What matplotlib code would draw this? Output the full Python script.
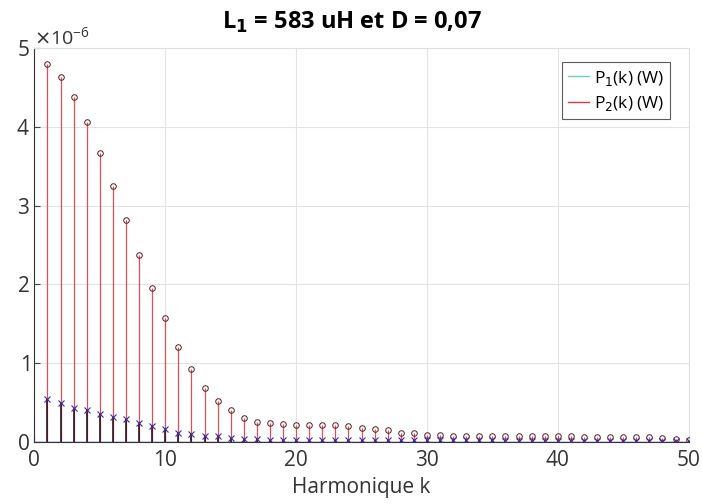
import numpy as np
import matplotlib.pyplot as plt
from matplotlib.lines import Line2D
from matplotlib.ticker import ScalarFormatter

# Harmonic ranks
k = np.arange(1, 51)

# P1(k) in units of 1e-6 W (x markers)
p1 = [0.55, 0.49, 0.43, 0.40, 0.36, 0.32, 0.29, 0.24, 0.20, 0.17,
      0.12, 0.10, 0.08, 0.07, 0.05, 0.04, 0.035, 0.03, 0.03, 0.03,
      0.03, 0.025, 0.025, 0.025, 0.02, 0.02, 0.02, 0.02, 0.02, 0.02,
      0.02, 0.02, 0.02, 0.02, 0.02, 0.015, 0.015, 0.015, 0.015, 0.015,
      0.015, 0.015, 0.015, 0.015, 0.01, 0.01, 0.01, 0.01, 0.01, 0.01]

# P2(k) in units of 1e-6 W (o markers)
p2 = [4.80, 4.63, 4.38, 4.06, 3.67, 3.25, 2.82, 2.37, 1.95, 1.57,
      1.21, 0.93, 0.69, 0.52, 0.40, 0.31, 0.26, 0.24, 0.23, 0.22,
      0.22, 0.22, 0.21, 0.20, 0.18, 0.16, 0.15, 0.12, 0.11, 0.09,
      0.085, 0.08, 0.08, 0.08, 0.08, 0.08, 0.08, 0.08, 0.08, 0.08,
      0.07, 0.065, 0.065, 0.065, 0.065, 0.065, 0.06, 0.045, 0.04, 0.02]

p1 = np.array(p1) * 1e-6
p2 = np.array(p2) * 1e-6

plt.rcParams['font.family'] = ['Open Sans', 'DejaVu Sans']

fig = plt.figure(figsize=(7.02, 5.04), dpi=100)
ax = fig.add_axes([0.049, 0.123, 0.932, 0.782])

# P2 stems (red, drawn first so P1 stems sit on top at the bottom)
ax.vlines(k, 0, p2, color='#d8505c', lw=0.9, zorder=2)
ax.plot(k, p2, 'o', mfc='none', mec='#5a1a22', ms=4, mew=0.7, zorder=4)

# P1 stems
ax.vlines(k, 0, p1, color='#2a1620', lw=1.2, zorder=3)
ax.plot(k, p1, 'x', color='#3a2a9a', ms=4, mew=0.8, zorder=5)

# stem baseline
ax.axhline(0, color='#3a3aa0', lw=1.0, zorder=3)

ax.set_xlim(0, 50)
ax.set_ylim(0, 5e-6)
ax.set_xticks([0, 10, 20, 30, 40, 50])
ax.set_yticks(np.arange(0, 6) * 1e-6)

fmt = ScalarFormatter(useMathText=True)
fmt.set_powerlimits((0, 0))
ax.yaxis.set_major_formatter(fmt)
ax.yaxis.get_offset_text().set_fontsize(14)
ax.yaxis.get_offset_text().set_color('#444444')

ax.grid(True, color='#e3e3e3', lw=0.8)
ax.set_axisbelow(True)
ax.tick_params(direction='in', labelsize=15, colors='#444444', length=4)
ax.tick_params(axis='x', pad=6)
ax.tick_params(axis='both', labelcolor='#333333')
for s in ['left', 'bottom']:
    ax.spines[s].set_color('#333333')
for s in ['top', 'right']:
    ax.spines[s].set_color('#e0e0e0')

ax.set_xlabel('Harmonique k', fontsize=15, color='#333333', labelpad=4)
ax.set_title('L$_\\mathbf{1}$ = 583 uH et D = 0,07', fontsize=17,
             fontweight='bold', pad=14, x=0.485)

handles = [Line2D([], [], color='#6fcfb8', lw=1.0),
           Line2D([], [], color='#d23c4a', lw=1.0)]
leg = ax.legend(handles, ['P$_1$(k) (W)', 'P$_2$(k) (W)'], loc='upper right',
                fontsize=12.5, fancybox=False, handlelength=1.2, handletextpad=0.3,
                borderpad=0.35, labelspacing=0.35, bbox_to_anchor=(0.985, 0.985))
leg.get_frame().set_edgecolor('#333333')
leg.get_frame().set_linewidth(0.8)

fig.savefig('out.png', dpi=100)
